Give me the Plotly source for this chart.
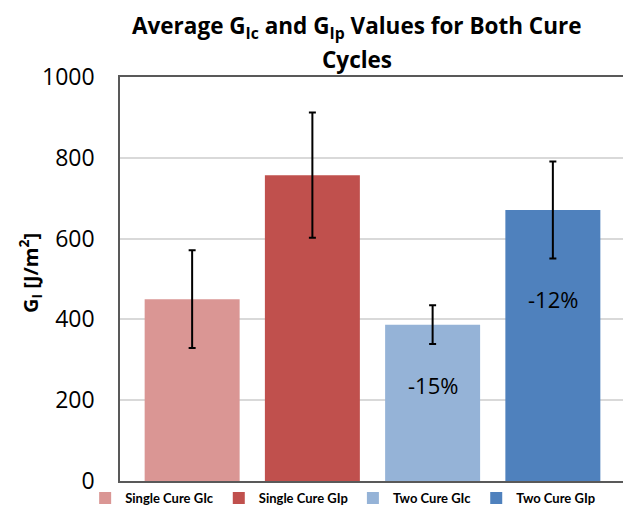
import plotly.graph_objects as go

categories = ["Single Cure GIc", "Single Cure GIp", "Two Cure GIc", "Two Cure GIp"]
values = [450, 757, 387, 671]
errors = [121, 155, 48, 120]
change_labels = ["", "", "-15%", "-12%"]
colors = ["#DA9694", "#C0504D", "#95B3D7", "#4F81BD"]
title_lines = ["<b>Average G<sub>Ic</sub> and G<sub>Ip</sub> Values for Both Cure</b>", "<b>Cycles</b>"]
y_title = "<b>G<sub>I</sub> [J/m<sup>2</sup>]</b>"

fig = go.Figure()
for cat, v, e, c in zip(categories, values, errors, colors):
    fig.add_trace(go.Bar(
        x=[cat], y=[v], name=cat,
        marker=dict(color=c, line=dict(width=0)),
        error_y=dict(type="data", array=[e], visible=True, color="black", thickness=2, width=3.5),
    ))

label_pos = {"Two Cure GIc": 238, "Two Cure GIp": 450}
for cat, lab in zip(categories, change_labels):
    if lab:
        fig.add_annotation(x=cat, y=label_pos[cat], text=lab, showarrow=False,
                           font=dict(size=22, color="black", family="Open Sans"))

for line, shift in zip(title_lines, [50, 18]):
    fig.add_annotation(
        xref="paper", yref="paper", x=0.469, y=1.0, xanchor="center", yanchor="middle", yshift=shift,
        text=line, showarrow=False,
        font=dict(size=22.5, family="Open Sans", color="black"),
    )

fig.add_annotation(
    xref="paper", yref="paper", x=-0.178, y=0.515, xanchor="center", yanchor="middle",
    text=y_title, textangle=-90, showarrow=False,
    font=dict(size=20, family="Open Sans", color="black"),
)

fig.update_layout(
    width=623, height=507,
    margin=dict(l=112, r=6, t=69, b=34, autoexpand=False),
    paper_bgcolor="white", plot_bgcolor="white",
    barmode="overlay", bargap=0.21,
    showlegend=True,
    font=dict(family="Open Sans", color="black"),
    legend=dict(orientation="h", x=-0.069, xanchor="left", y=-0.005, yanchor="top",
                bgcolor="rgba(0,0,0,0)",
                font=dict(size=13, family="Lato", color="black", weight="bold"),
                itemwidth=30, tracegroupgap=0, traceorder="normal"),
    xaxis=dict(showticklabels=False, showline=True, linecolor="#595959", linewidth=1.5,
               mirror=True, ticks="", categoryorder="array", categoryarray=categories,
               range=[-0.6, 3.6]),
    yaxis=dict(range=[0, 1000], dtick=200, showgrid=True, gridcolor="#D9D9D9", gridwidth=1.5,
               showline=True, linecolor="#595959", linewidth=1.5, mirror=True,
               tickfont=dict(size=23, color="black", family="Open Sans"), ticks="",
               ticklabelstandoff=19, zeroline=False),
)

fig.write_html("out.html")
